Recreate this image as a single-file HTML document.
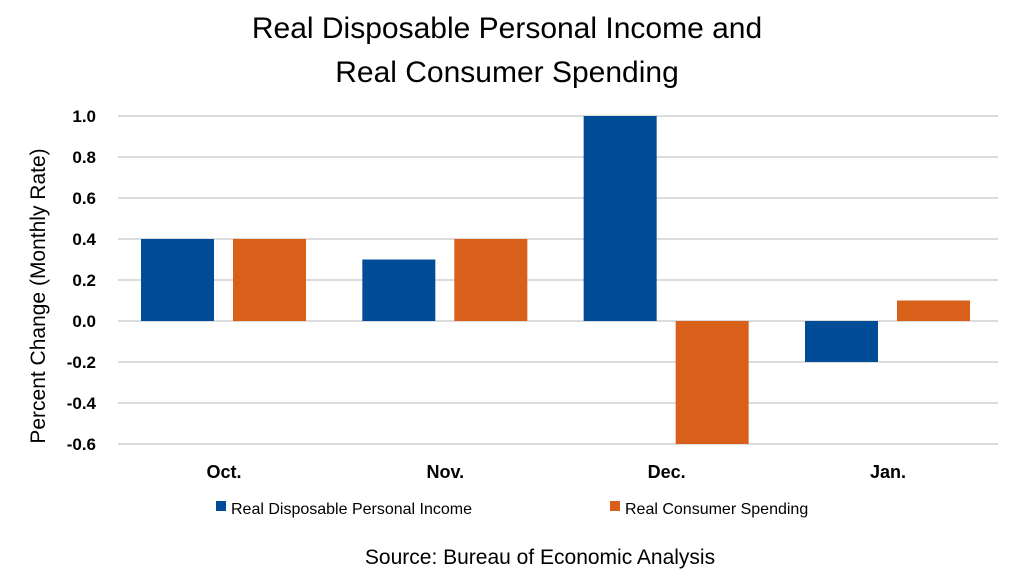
<!DOCTYPE html>
<html><head><meta charset="utf-8"><style>
body{margin:0;background:#fff;font-family:"Liberation Sans",sans-serif;}
svg{display:block}
</style></head><body>
<svg id="c" width="1024" height="586">
<text x="507" y="38" font-size="30" text-anchor="middle" fill="#000">Real Disposable Personal Income and</text>
<text x="507" y="82" font-size="30" text-anchor="middle" fill="#000">Real Consumer Spending</text>
<text transform="translate(45,296) rotate(-90)" font-size="21" text-anchor="middle" fill="#000">Percent Change (Monthly Rate)</text>
<g id="grid"></g><g id="bars"></g><g id="labels"></g>
<rect x="216" y="501" width="10" height="10" fill="#004c97"/>
<text x="231" y="514" font-size="16" fill="#000">Real Disposable Personal Income</text>
<rect x="610" y="501" width="10" height="10" fill="#d9601a"/>
<text x="625" y="514" font-size="16" fill="#000">Real Consumer Spending</text>
<text x="540" y="564" font-size="21" text-anchor="middle" fill="#000">Source:  Bureau of Economic Analysis</text>
</svg>
<script>
const categories=["Oct.","Nov.","Dec.","Jan."];
const income=[0.4,0.3,1.0,-0.2];
const spending=[0.4,0.4,-0.6,0.1];
const ticks=["1.0","0.8","0.6","0.4","0.2","0.0","-0.2","-0.4","-0.6"];
const NS="http://www.w3.org/2000/svg";
const x0=118,x1=998,yTop=116,yBot=444,vMax=1.0,vMin=-0.6;
const y=v=>yTop+(vMax-v)/(vMax-vMin)*(yBot-yTop);
const band=221.33;
const firstBar=141;
function mk(tag,attrs,parent){const e=document.createElementNS(NS,tag);for(const k in attrs)e.setAttribute(k,attrs[k]);document.getElementById(parent).appendChild(e);return e;}
ticks.forEach(t=>{const v=parseFloat(t);
 const l=mk("line",{x1:x0,x2:x1,y1:y(v),y2:y(v),stroke:"#c8c8c8","stroke-width":1.3},"grid");
 
 
 const tx=mk("text",{x:96,y:y(v)+6,"font-size":17,"font-weight":"bold","text-anchor":"end"},"labels");
 tx.textContent=t;
 
 
});
const bw=73;
categories.forEach((c,i)=>{
 const bx0=firstBar+band*i;
 [[income[i],"#004c97",bx0,"income"],[spending[i],"#d9601a",bx0+92,"spending"]].forEach(([v,col,bx,n])=>{
  const r=mk("rect",{x:bx,y:Math.min(y(v),y(0)),width:bw,height:Math.abs(y(v)-y(0)),fill:col},"bars");
  
  
 });
 const t=mk("text",{x:bx0+83,y:478,"font-size":18,"font-weight":"bold","text-anchor":"middle"},"labels");
 t.textContent=c;
 
 
});
</script>
</body></html>
